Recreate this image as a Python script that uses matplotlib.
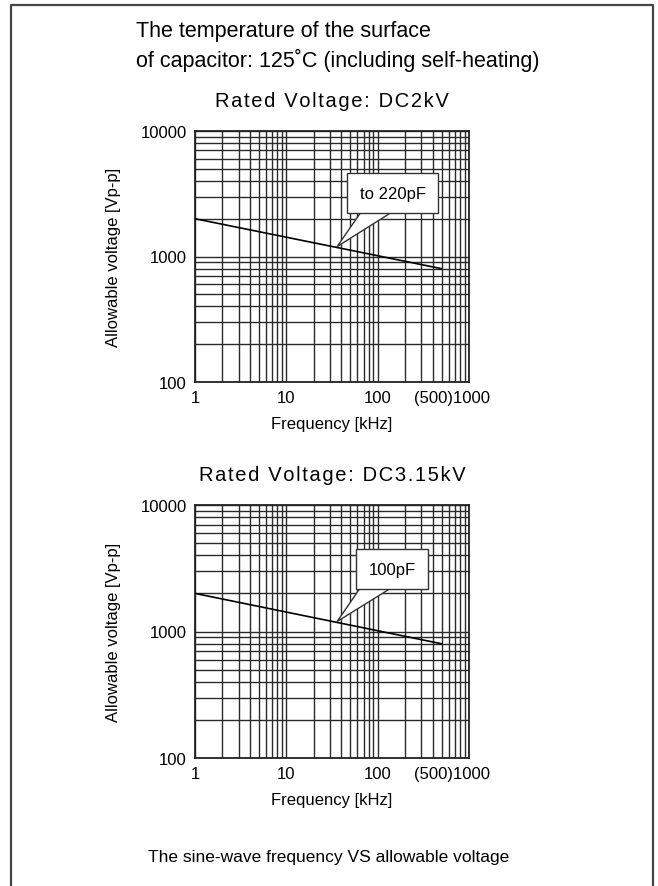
import matplotlib.pyplot as plt
import matplotlib.transforms as mtransforms
from matplotlib.ticker import LogLocator, NullFormatter

plt.rcParams['font.family'] = ['Liberation Sans', 'DejaVu Sans']

# Data
freq = [1, 500]               # kHz
volt_2kv = [2000, 800]        # Vp-p
volt_315kv = [2000, 800]      # Vp-p
xticks = [1, 10, 100, 1000]
xticklabels = ['1', '10', '100', '(500)1000']
yticks = [100, 1000, 10000]
yticklabels = ['100', '1000', '10000']

panels = [
    ('Rated Voltage: DC2kV', volt_2kv, 'to 220pF', (147, 3200), (36, 1200)),
    ('Rated Voltage: DC3.15kV', volt_315kv, '100pF', (143, 3100), (36, 1200)),
]


def spaced(s):
    return '\u200a'.join(s)


fig = plt.figure(figsize=(6.58, 8.87), dpi=100)

# outer frame (open at bottom)
fig.add_artist(plt.Line2D([11/658, 11/658, 653/658, 653/658],
                          [0, 1-6/887, 1-6/887, 0],
                          transform=fig.transFigure, color='#444444', lw=1.6))

fig.text(136/658, 1-31/887, 'The temperature of the surface',
         fontsize=15.5, va='center', ha='left')
fig.text(136/658, 1-60/887, 'of capacitor: 125˚C (including self-heating)',
         fontsize=15.5, va='center', ha='left')
fig.text(0.5, 1-858/887, 'The sine-wave frequency VS allowable voltage',
         fontsize=12.5, va='center', ha='center')

ax_pos = [[195/658, 1-383/887, 274/658, 251/887],
          [195/658, 1-759/887, 274/658, 253/887]]

for pos, (title, volt, note, note_xy, tip_xy) in zip(ax_pos, panels):
    ax = fig.add_axes(pos)
    ax.set_xscale('log')
    ax.set_yscale('log')
    ax.set_xlim(1, 1000)
    ax.set_ylim(100, 10000)

    ax.plot(freq, volt, color='black', lw=1.2, zorder=3)

    # callout: wedge from box centre to the curve, box drawn over it
    ax.annotate('', xy=tip_xy, xytext=note_xy, zorder=4,
                arrowprops=dict(arrowstyle='wedge,tail_width=1.9', fc='white',
                                ec='#333333', lw=1.0, shrinkA=0, shrinkB=0,
                                mutation_scale=12))
    ax.text(note_xy[0], note_xy[1], note, ha='center', va='center', fontsize=12,
            zorder=5,
            bbox=dict(boxstyle='square,pad=0.75', fc='white', ec='#333333', lw=1.0))

    ax.set_xticks(xticks)
    ax.set_xticklabels(xticklabels)
    ax.set_yticks(yticks)
    ax.set_yticklabels(yticklabels)
    ax.xaxis.set_minor_locator(LogLocator(base=10, subs=range(2, 10)))
    ax.yaxis.set_minor_locator(LogLocator(base=10, subs=range(2, 10)))
    ax.xaxis.set_minor_formatter(NullFormatter())
    ax.yaxis.set_minor_formatter(NullFormatter())
    ax.grid(True, which='both', color='#2a2a2a', lw=1.0)
    ax.set_axisbelow(True)
    ax.tick_params(which='both', length=0)
    ax.tick_params(labelsize=12, pad=6)

    last = ax.get_xticklabels()[-1]
    last.set_transform(last.get_transform() +
                       mtransforms.ScaledTranslation(-0.17, 0, fig.dpi_scale_trans))

    for s in ax.spines.values():
        s.set_color('#222222')
        s.set_linewidth(1.3)

    ax.set_xlabel('Frequency [kHz]', fontsize=12, labelpad=8)
    ax.set_ylabel('Allowable voltage [Vp-p]', fontsize=12, labelpad=14)
    ax.set_title(spaced(title), fontsize=14.5, pad=18)

fig.savefig('out.png', dpi=100)
